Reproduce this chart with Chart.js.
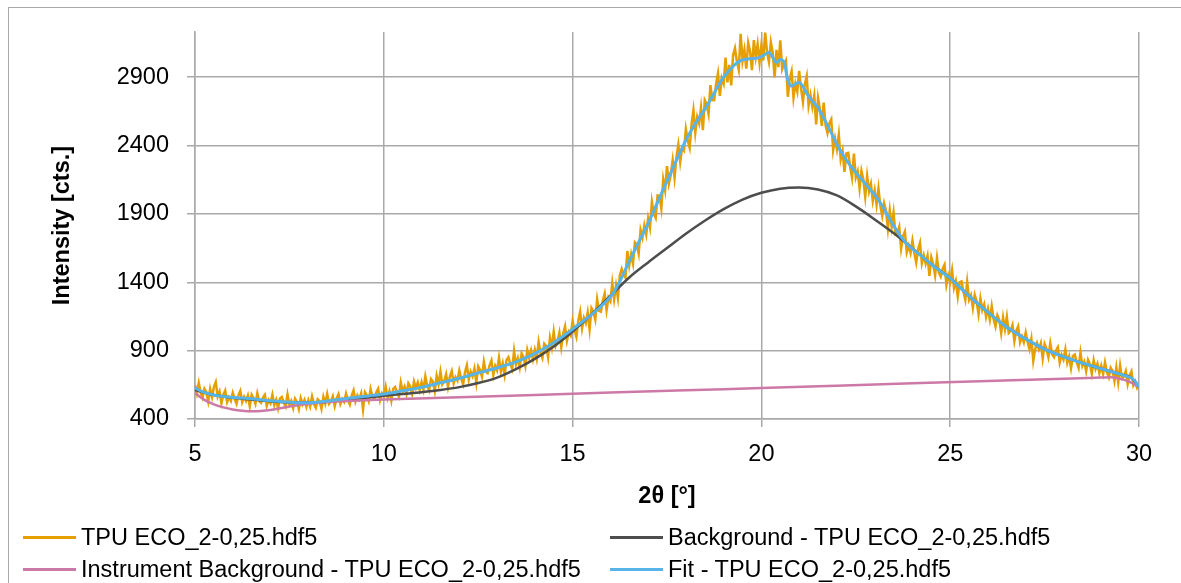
<!DOCTYPE html>
<html>
<head>
<meta charset="utf-8">
<script src="https://cdn.jsdelivr.net/npm/chart.js@4.4.1/dist/chart.umd.min.js"></script>
<style>
  html, body { margin: 0; padding: 0; background: #fff; overflow: hidden; }
  #wrap { position: relative; width: 1181px; height: 583px; }
  #frame { position: absolute; left: 8px; top: 7px; width: 1200px; height: 600px;
           border: 1.5px solid #a9a9a9; box-sizing: border-box; }
  #chart { position: absolute; left: 0; top: 0; }
  .legend-item { position: absolute; height: 30px; display: flex; align-items: center;
                 font-family: "Liberation Sans", Arial, sans-serif; font-size: 23.5px; color: #000;
                 white-space: nowrap; }
  .legend-item .swatch { display: inline-block; width: 53px; height: 3px; margin-right: 5px; }
</style>
</head>
<body>
<div id="wrap">
  <div id="frame"></div>
  <canvas id="chart" width="1181" height="583"></canvas>
  <div id="legend"></div>
</div>
<script>
// 2θ grids: measured scan in 0.05° steps, fit in 0.1° steps
const scanAngle = Array.from({ length: 501 }, (_, i) => +(5 + i * 0.05).toFixed(2));
const fitAngle = Array.from({ length: 251 }, (_, i) => +(5 + i * 0.1).toFixed(1));

// measured intensity (cts.), one row per degree
const measured = [
  648, 588, 663, 593, 555, 621, 596, 528, 620, 560, 634, 670, 565, 601, 516, 578, 608, 523, 560, 533,
  592, 546, 511, 573, 605, 524, 563, 533, 572, 493, 577, 552, 511, 588, 531, 518, 557, 577, 496, 540,
  515, 577, 502, 541, 478, 550, 561, 520, 491, 580, 505, 533, 481, 549, 525, 473, 552, 507, 540, 489,
  537, 491, 565, 510, 482, 545, 531, 475, 562, 512, 582, 511, 529, 566, 494, 551, 582, 510, 546, 525,
  586, 538, 505, 572, 610, 528, 572, 543, 587, 470, 596, 574, 532, 619, 560, 550, 594, 621, 537, 587,
  564, 636, 555, 603, 534, 620, 634, 593, 563, 668, 602, 637, 581, 661, 637, 583, 674, 626, 667, 612,
  669, 613, 711, 643, 609, 692, 674, 604, 716, 655, 746, 654, 678, 727, 635, 710, 750, 660, 706, 681,
  754, 696, 654, 741, 792, 689, 747, 713, 769, 666, 785, 759, 708, 819, 745, 735, 791, 827, 722, 788,
  755, 847, 747, 807, 723, 832, 852, 801, 765, 898, 799, 845, 778, 880, 853, 787, 905, 848, 902, 837,
  906, 841, 963, 883, 846, 951, 934, 853, 994, 923, 1038, 933, 967, 1032, 926, 1024, 1078, 973, 1036, 1012,
  1115, 1049, 1001, 1118, 1185, 1062, 1139, 1102, 1179, 1056, 1211, 1185, 1128, 1275, 1191, 1185, 1265, 1317, 1196, 1288,
  1261, 1394, 1277, 1376, 1286, 1450, 1497, 1454, 1433, 1629, 1523, 1604, 1536, 1691, 1676, 1610, 1782, 1727, 1817, 1750,
  1867, 1800, 1988, 1900, 1870, 2035, 2031, 1940, 2152, 2073, 2249, 2122, 2187, 2292, 2166, 2316, 2407, 2280, 2382, 2363,
  2520, 2438, 2384, 2555, 2658, 2494, 2610, 2563, 2678, 2512, 2732, 2703, 2632, 2842, 2733, 2732, 2851, 2928, 2764, 2893,
  2853, 3043, 2862, 2991, 2840, 3061, 3112, 3018, 2955, 3217, 3020, 3101, 2963, 3152, 3091, 2951, 3171, 3048, 3142, 3007,
  3136, 3022, 3226, 3083, 3012, 3155, 3080, 2898, 3100, 2973, 3169, 2958, 2995, 3022, 2757, 2889, 2943, 2752, 2852, 2795,
  2946, 2819, 2720, 2849, 2908, 2692, 2770, 2684, 2766, 2554, 2748, 2667, 2544, 2714, 2547, 2492, 2562, 2591, 2367, 2452,
  2374, 2481, 2300, 2362, 2207, 2343, 2347, 2245, 2166, 2341, 2167, 2211, 2086, 2214, 2150, 2026, 2177, 2065, 2120, 1996,
  2072, 1968, 2086, 1960, 1886, 1978, 1923, 1792, 1925, 1807, 1910, 1752, 1761, 1805, 1648, 1736, 1771, 1620, 1668, 1615,
  1704, 1614, 1544, 1641, 1689, 1539, 1598, 1537, 1594, 1446, 1582, 1532, 1451, 1578, 1470, 1441, 1500, 1529, 1381, 1451,
  1403, 1489, 1359, 1409, 1297, 1401, 1406, 1330, 1272, 1403, 1273, 1306, 1212, 1308, 1260, 1167, 1281, 1197, 1239, 1147,
  1206, 1127, 1224, 1130, 1077, 1158, 1123, 1029, 1143, 1057, 1147, 1030, 1045, 1087, 970, 1045, 1078, 961, 1002, 961,
  1031, 963, 910, 986, 825, 910, 955, 910, 955, 843, 949, 913, 854, 954, 873, 853, 900, 925, 813, 869,
  835, 908, 810, 857, 772, 861, 871, 815, 774, 886, 788, 820, 750, 833, 801, 732, 829, 766, 805, 736,
  789, 729, 814, 742, 704, 775, 752, 678, 777, 670, 790, 697, 711, 750, 656, 719, 748, 647, 675, 627,
  650
];

// refined fit (cts.)
const fit = [
  629, 612, 600, 590, 582, 576, 571, 567, 563, 560,
  558, 556, 554, 552, 550, 548, 545, 542, 539, 536,
  533, 531, 529, 527, 525, 523, 521, 519, 518, 518,
  519, 520, 522, 525, 528, 531, 535, 539, 542, 546,
  549, 553, 556, 559, 563, 566, 569, 573, 576, 580,
  583, 587, 592, 596, 601, 606, 611, 616, 621, 626,
  632, 638, 645, 651, 658, 665, 671, 678, 684, 691,
  698, 705, 713, 721, 729, 737, 744, 751, 759, 766,
  774, 782, 790, 799, 808, 818, 829, 840, 852, 865,
  879, 893, 908, 924, 941, 958, 977, 996, 1016, 1036,
  1057, 1078, 1099, 1120, 1141, 1163, 1186, 1210, 1236, 1263,
  1293, 1330, 1380, 1435, 1495, 1555, 1610, 1665, 1720, 1775,
  1830, 1892, 1955, 2018, 2080, 2140, 2200, 2262, 2322, 2382,
  2440, 2490, 2538, 2583, 2625, 2665, 2712, 2760, 2810, 2858,
  2900, 2935, 2965, 2993, 3014, 3027, 3032, 3035, 3037, 3040,
  3050, 3068, 3080, 3045, 3008, 3030, 3010, 2880, 2835, 2852,
  2862, 2832, 2782, 2742, 2710, 2678, 2628, 2575, 2520, 2465,
  2410, 2360, 2315, 2275, 2238, 2203, 2170, 2138, 2105, 2072,
  2040, 2002, 1960, 1912, 1862, 1815, 1772, 1732, 1697, 1668,
  1645, 1622, 1600, 1578, 1555, 1532, 1510, 1490, 1470, 1450,
  1430, 1404, 1378, 1352, 1326, 1300, 1275, 1251, 1227, 1203,
  1180, 1158, 1136, 1114, 1093, 1072, 1054, 1036, 1019, 1002,
  986, 970, 955, 940, 925, 911, 899, 888, 877, 866,
  856, 846, 837, 827, 818, 809, 801, 793, 785, 776,
  768, 760, 752, 744, 736, 728, 719, 710, 700, 675,
  633
];

// amorphous background
const bgAngle = [5, 5.5, 6, 6.5, 7, 7.5, 8, 8.5, 9, 9.5, 10, 10.5, 11, 11.5, 12, 12.5, 13, 13.5,
  14, 14.5, 15, 15.5, 16, 16.5, 17, 17.5, 18, 18.5, 19, 19.5, 20, 20.5, 21, 21.5, 22, 22.5,
  23, 23.5, 24, 24.5, 25, 25.5, 26, 26.5, 27, 27.5, 28, 28.5, 29, 29.5, 29.8, 30];
const background = [612, 575, 556, 543, 530, 521, 518, 526, 541, 555, 570, 583, 596, 612, 633, 663, 703, 765,
  840, 930, 1040, 1165, 1300, 1435, 1545, 1650, 1755, 1850, 1935, 2005, 2055, 2085, 2093, 2078, 2035, 1955,
  1860, 1760, 1648, 1532, 1430, 1300, 1180, 1072, 986, 911, 856, 809, 768, 728, 700, 633];

// instrument background
const instAngle = [5, 5.25, 5.5, 5.75, 6, 6.25, 6.5, 6.75, 7, 7.25, 7.5, 7.75, 8, 8.5, 9, 9.5, 10,
  12, 14, 16, 18, 20, 22, 24, 26, 28, 29, 29.25, 29.5, 29.75, 30];
const instrument = [590, 540, 507, 485, 470, 461, 457, 459, 466, 478, 491, 502, 511, 524, 531, 537, 542,
  559, 576, 593, 610, 627, 644, 661, 678, 695, 703, 705, 695, 672, 635];

const xTicks = [5, 10, 15, 20, 25, 30];
const yTicks = [400, 900, 1400, 1900, 2400, 2900];

const seriesNames = [
  "TPU ECO_2-0,25.hdf5",
  "Background - TPU ECO_2-0,25.hdf5",
  "Instrument Background - TPU ECO_2-0,25.hdf5",
  "Fit - TPU ECO_2-0,25.hdf5",
];
const seriesColors = ["#E69F00", "#4D4D4D", "#CC79A7", "#56B4E9"];

const pairs = (xs, ys) => xs.map((x, i) => ({ x, y: ys[i] }));

const FONT = "'Liberation Sans', Arial, sans-serif";
const GRID = "#a9a9a9";

new Chart(document.getElementById("chart"), {
  type: "line",
  data: {
    datasets: [
      { label: seriesNames[0], data: pairs(scanAngle, measured), borderColor: seriesColors[0],
        borderWidth: 2.5, tension: 0, order: 3 },
      { label: seriesNames[1], data: pairs(bgAngle, background), borderColor: seriesColors[1],
        borderWidth: 2.5, cubicInterpolationMode: "monotone", order: 2 },
      { label: seriesNames[2], data: pairs(instAngle, instrument), borderColor: seriesColors[2],
        borderWidth: 2.5, cubicInterpolationMode: "monotone", order: 1 },
      { label: seriesNames[3], data: pairs(fitAngle, fit), borderColor: seriesColors[3],
        borderWidth: 3, cubicInterpolationMode: "monotone", order: 0 },
    ],
  },
  options: {
    responsive: false,
    animation: false,
    elements: { point: { radius: 0 } },
    layout: { padding: { top: 28, right: 42, left: 0, bottom: 0 } },
    plugins: { legend: { display: false }, tooltip: { enabled: false } },
    scales: {
      x: {
        type: "linear",
        min: 5,
        max: 30,
        afterBuildTicks: (s) => { s.ticks = xTicks.map((v) => ({ value: v })); },
        afterFit: (s) => { s.height = 164; },
        grid: { color: GRID, lineWidth: 1.5, tickLength: 8, tickColor: GRID },
        border: { color: GRID, width: 1.5 },
        ticks: { color: "#000", font: { family: FONT, size: 23.5 }, padding: 13, maxRotation: 0,
                 callback: (v) => String(v) },
        title: { display: true, text: "2θ [°]", color: "#000",
                 font: { family: FONT, size: 23.5, weight: "bold" }, padding: { bottom: 72 } },
      },
      y: {
        min: 400,
        max: 3230,
        afterBuildTicks: (s) => { s.ticks = yTicks.map((v) => ({ value: v })); },
        afterFit: (s) => { s.width = 195; },
        grid: { color: GRID, lineWidth: 1.5, tickLength: 8, tickColor: GRID },
        border: { color: GRID, width: 1.5 },
        ticks: { color: "#000", font: { family: FONT, size: 23.5 }, padding: 18,
                 callback: (v) => String(v) },
        title: { display: true, text: "Intensity [cts.]", color: "#000",
                 font: { family: FONT, size: 23.5, weight: "bold" }, padding: { top: 48 } },
      },
    },
  },
});

// two-column legend under the plot
const legendPos = [
  { left: 23, top: 522 },
  { left: 610, top: 522 },
  { left: 23, top: 554 },
  { left: 610, top: 554 },
];
const legend = document.getElementById("legend");
seriesNames.forEach((name, i) => {
  const item = document.createElement("div");
  item.className = "legend-item";
  item.style.left = legendPos[i].left + "px";
  item.style.top = legendPos[i].top + "px";
  const sw = document.createElement("span");
  sw.className = "swatch";
  sw.style.background = seriesColors[i];
  item.appendChild(sw);
  item.appendChild(document.createTextNode(name));
  legend.appendChild(item);
});
</script>
</body>
</html>
